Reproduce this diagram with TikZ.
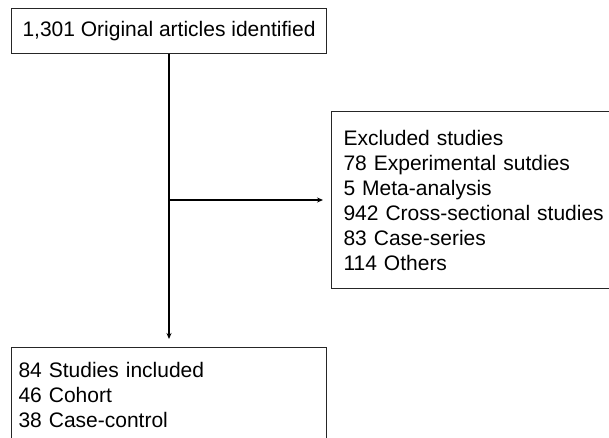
\documentclass[tikz,border=0pt]{standalone}
\usepackage{fontspec}
\setmainfont{Liberation Sans}
\usetikzlibrary{arrows.meta}

\begin{document}
\begin{tikzpicture}[x=1pt, y=-1pt,
		box/.style={draw=black!85, line width=1pt, font=\fontsize{21}{25}\selectfont},
		flow/.style={line width=1.6pt, -{Stealth[length=6pt, width=5pt]}, shorten >=8pt}]
		\useasboundingbox (0, 0) rectangle (609, 438);
		\clip (0, 0) rectangle (609, 438);
		
		\node[box, anchor=north west, minimum width=315pt, minimum height=45pt, inner sep=0pt] (orig) at (11, 8) {1,301 Original articles identified};
		\node[box, anchor=west, text width=290pt, align=left, inner xsep=12pt, inner ysep=0pt, minimum height=177pt] (excl) at (331, 200) {Excluded studies\\78 Experimental sutdies\\5 Meta-analysis\\942 Cross-sectional studies\\83 Case-series\\114 Others};
		\node[box, anchor=north west, text width=301pt, align=left, inner xsep=7pt, inner ysep=14.5pt] (incl) at (11, 347) {84 Studies included\\46 Cohort\\38 Case-control};
		
		\coordinate (split) at (orig.south |- excl.west);
		\draw[flow] (orig.south) -- (incl.north);
		\draw[flow] (split) -- (excl.west);
	\end{tikzpicture}
\end{document}
